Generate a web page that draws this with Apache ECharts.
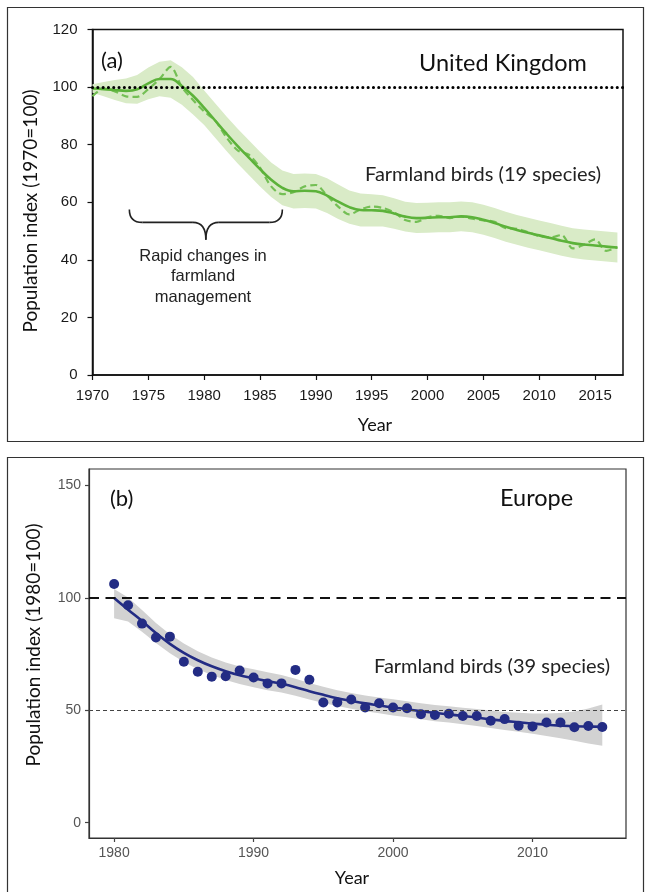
<!DOCTYPE html>
<html>
<head>
<meta charset="utf-8">
<script src="https://cdn.jsdelivr.net/npm/echarts@6/dist/echarts.min.js"></script>
<style>
  html, body { margin: 0; padding: 0; background: #fff; }
  #chart { width: 649px; height: 892px; }
</style>
</head>
<body>
<div id="chart"></div>
<script>
// ---- (a) United Kingdom farmland bird index, 1970 = 100 ----
const ukYears = [1970, 1971, 1972, 1973, 1974, 1975, 1976, 1977, 1978, 1979,
  1980, 1981, 1982, 1983, 1984, 1985, 1986, 1987, 1988, 1989,
  1990, 1991, 1992, 1993, 1994, 1995, 1996, 1997, 1998, 1999,
  2000, 2001, 2002, 2003, 2004, 2005, 2006, 2007, 2008, 2009,
  2010, 2011, 2012, 2013, 2014, 2015, 2016, 2017];
const ukSmoothed = [99.5, 99.3, 99.0, 98.7, 99.2, 101.3, 102.8, 102.8, 100.4, 97.0,
  92.8, 88.3, 83.8, 79.5, 75.5, 71.5, 67.8, 65.0, 63.8, 64.0,
  63.8, 62.3, 60.2, 58.3, 57.3, 57.2, 57.0, 56.1, 55.0, 54.5,
  54.6, 54.8, 54.8, 55.1, 54.8, 53.9, 52.8, 51.5, 50.4, 49.4,
  48.5, 47.6, 46.6, 45.8, 45.3, 45.0, 44.6, 44.3];
const ukAnnual = [96.8, 99.5, 98.5, 96.8, 96.6, 99.3, 102.8, 107.0, 100.0, 95.5,
  91.5, 88.3, 82.5, 78.0, 76.5, 72.0, 65.5, 62.8, 63.5, 65.5,
  66.0, 62.3, 58.5, 55.8, 57.5, 58.5, 58.0, 56.5, 53.8, 53.2,
  54.8, 55.3, 54.5, 55.0, 54.3, 53.7, 53.2, 51.0, 50.8, 49.6,
  48.2, 47.8, 48.6, 44.0, 45.2, 47.1, 43.1, 44.4];
const ukLower = [98.0, 96.8, 95.5, 94.4, 94.2, 95.8, 96.8, 96.3, 93.9, 90.5,
  86.8, 82.3, 77.8, 73.5, 69.5, 65.5, 61.8, 59.0, 57.8, 58.0,
  57.8, 56.3, 54.2, 52.5, 51.6, 51.6, 51.6, 50.8, 49.8, 49.3,
  49.4, 49.6, 49.6, 49.9, 49.6, 48.7, 47.6, 46.3, 45.2, 44.2,
  43.3, 42.4, 41.4, 40.6, 40.1, 39.8, 39.4, 39.1];
const ukUpper = [101.0, 101.8, 102.5, 103.0, 104.2, 106.8, 108.8, 109.3, 106.9, 103.5,
  98.8, 94.3, 89.8, 85.5, 81.5, 77.5, 73.8, 71.0, 69.8, 70.0,
  69.8, 68.3, 66.2, 64.1, 63.0, 62.8, 62.4, 61.4, 60.2, 59.7,
  59.8, 60.0, 60.0, 60.3, 60.0, 59.1, 58.0, 56.7, 55.6, 54.6,
  53.7, 52.8, 51.8, 51.0, 50.5, 50.2, 49.8, 49.5];
const ukXTicks = [1970, 1975, 1980, 1985, 1990, 1995, 2000, 2005, 2010, 2015];
const ukYTicks = [0, 20, 40, 60, 80, 100, 120];

// ---- (b) Europe farmland bird index, 1980 = 100 ----
const euYears = [1980, 1981, 1982, 1983, 1984, 1985, 1986, 1987, 1988, 1989,
  1990, 1991, 1992, 1993, 1994, 1995, 1996, 1997, 1998, 1999,
  2000, 2001, 2002, 2003, 2004, 2005, 2006, 2007, 2008, 2009,
  2010, 2011, 2012, 2013, 2014, 2015];
const euIndex = [106.2, 96.8, 88.6, 82.4, 82.8, 71.6, 67.2, 65.0, 65.2, 67.7,
  64.6, 62.0, 62.0, 68.0, 63.6, 53.5, 53.5, 54.8, 51.3, 53.2,
  51.3, 50.9, 48.3, 47.9, 48.5, 47.5, 47.5, 45.4, 46.1, 43.2,
  42.8, 44.6, 44.6, 42.5, 43.0, 42.6];
const euTrend = [100.0, 94.8, 89.8, 84.4, 79.6, 75.6, 72.3, 69.6, 67.4, 65.6,
  64.3, 63.0, 61.8, 60.3, 58.5, 56.9, 55.4, 54.2, 53.1, 52.2,
  51.3, 50.5, 49.6, 48.8, 48.2, 47.5, 46.8, 46.0, 45.3, 44.7,
  44.1, 43.6, 43.2, 42.9, 42.8, 42.7];
const euLower = [91.0, 89.5, 85.0, 80.0, 75.4, 71.5, 68.3, 65.7, 63.5, 61.7,
  60.3, 59.0, 57.9, 56.5, 54.8, 53.3, 51.9, 50.7, 49.6, 48.7,
  47.7, 46.9, 46.0, 45.2, 44.6, 43.8, 43.0, 42.1, 41.3, 40.5,
  39.6, 38.6, 37.6, 36.5, 35.3, 34.2];
const euUpper = [104.0, 100.2, 94.7, 88.9, 83.9, 79.7, 76.3, 73.5, 71.3, 69.5,
  68.3, 67.0, 65.7, 64.1, 62.2, 60.5, 58.9, 57.7, 56.6, 55.7,
  54.9, 54.1, 53.2, 52.4, 51.8, 51.2, 50.6, 49.9, 49.3, 48.9,
  48.6, 48.6, 48.8, 49.5, 50.8, 52.6];
const euXTicks = [1980, 1990, 2000, 2010];
const euYTicks = [0, 50, 100, 150];

// ---- styling ----
const SANS = 'Lato, "Open Sans", sans-serif';
const ARIAL = '"Liberation Sans", Arial, sans-serif';
const GREEN = '#5cb23a';
const GREEN_DASH = '#74bf55';
const GREEN_BAND = '#d9ebc7';
const NAVY = '#232c84';
const GREY_BAND = '#d2d2d2';

const pairs = (xs, ys) => xs.map((x, i) => [x, ys[i]]);
const plain = v => String(v);

// confidence band drawn as one polygon through the axis scales
function band(idx, xs, lo, hi, fill) {
  return {
    type: 'custom', xAxisIndex: idx, yAxisIndex: idx, silent: true, z: 1,
    data: [[xs[0], lo[0]]],
    renderItem(params, api) {
      const top = xs.map((x, i) => api.coord([x, hi[i]]));
      const bottom = xs.map((x, i) => api.coord([x, lo[i]])).reverse();
      return { type: 'polygon', shape: { points: top.concat(bottom) }, style: { fill: fill } };
    }
  };
}

function refLine(idx, value, style, z) {
  return {
    type: 'line', xAxisIndex: idx, yAxisIndex: idx, data: [], silent: true, z: z,
    markLine: { silent: true, symbol: 'none', label: { show: false },
      lineStyle: style, data: [{ yAxis: value }] }
  };
}

const chart = echarts.init(document.getElementById('chart'), null, { renderer: 'canvas' });

const option = {
  animation: false,
  backgroundColor: '#fff',
  grid: [
    { left: 92.5, top: 29.5, width: 530.5, height: 345.5, show: true, borderColor: '#111', borderWidth: 1.5, backgroundColor: 'transparent' },
    { left: 89, top: 469, width: 537, height: 369, show: true, borderColor: '#333', borderWidth: 1.2, backgroundColor: 'transparent' }
  ],
  xAxis: [
    { gridIndex: 0, type: 'value', min: 1970, max: 2017.5,
      axisLine: { show: true, onZero: false, lineStyle: { color: '#111', width: 1.5 } },
      axisTick: { show: true, length: 5, customValues: ukXTicks, lineStyle: { color: '#111', width: 1.2 } },
      axisLabel: { customValues: ukXTicks, formatter: plain, color: '#1a1a1a', fontFamily: ARIAL, fontSize: 15, margin: 13 },
      splitLine: { show: false } },
    { gridIndex: 1, type: 'value', min: 1978.2, max: 2016.7,
      axisLine: { show: true, onZero: false, lineStyle: { color: '#333', width: 1.2 } },
      axisTick: { show: true, length: 4, customValues: euXTicks, lineStyle: { color: '#444', width: 1.2 } },
      axisLabel: { customValues: euXTicks, formatter: plain, color: '#555', fontFamily: ARIAL, fontSize: 14, margin: 8 },
      splitLine: { show: false } }
  ],
  yAxis: [
    { gridIndex: 0, type: 'value', min: 0, max: 120,
      axisLine: { show: true, onZero: false, lineStyle: { color: '#111', width: 1.5 } },
      axisTick: { show: true, length: 5, customValues: ukYTicks, lineStyle: { color: '#111', width: 1.2 } },
      axisLabel: { customValues: ukYTicks, formatter: plain, color: '#1a1a1a', fontFamily: ARIAL, fontSize: 15, margin: 15 },
      splitLine: { show: false } },
    { gridIndex: 1, type: 'value', min: -6.8, max: 157.4,
      axisLine: { show: true, onZero: false, lineStyle: { color: '#333', width: 1.2 } },
      axisTick: { show: true, length: 4, customValues: euYTicks, lineStyle: { color: '#444', width: 1.2 } },
      axisLabel: { customValues: euYTicks, formatter: plain, color: '#555', fontFamily: ARIAL, fontSize: 14, margin: 8 },
      splitLine: { show: false } }
  ],
  series: [
    band(0, ukYears, ukLower, ukUpper, GREEN_BAND),
    { type: 'line', xAxisIndex: 0, yAxisIndex: 0, data: pairs(ukYears, ukAnnual), smooth: 0.3,
      showSymbol: false, z: 2, lineStyle: { color: GREEN_DASH, width: 2.2, type: [7, 4] } },
    { type: 'line', xAxisIndex: 0, yAxisIndex: 0, data: pairs(ukYears, ukSmoothed), smooth: 0.4,
      showSymbol: false, z: 3, lineStyle: { color: GREEN, width: 2.6 } },
    refLine(0, 100, { color: '#000', width: 3, type: [0.1, 5.2], cap: 'round' }, 5),

    band(1, euYears, euLower, euUpper, GREY_BAND),
    refLine(1, 100, { color: '#111', width: 2, type: [10, 6.5] }, 2),
    refLine(1, 50, { color: '#444', width: 1.2, type: [4, 3] }, 2),
    { type: 'line', xAxisIndex: 1, yAxisIndex: 1, data: pairs(euYears, euTrend), smooth: 0.4,
      showSymbol: false, z: 3, lineStyle: { color: NAVY, width: 2.6 } },
    { type: 'scatter', xAxisIndex: 1, yAxisIndex: 1, data: pairs(euYears, euIndex),
      symbolSize: 10, z: 4, itemStyle: { color: NAVY, opacity: 1 } }
  ],
  graphic: [
    // panel frames
    { type: 'rect', shape: { x: 7.5, y: 7.5, width: 636, height: 434 }, style: { fill: 'none', stroke: '#333', lineWidth: 1.2 }, silent: true },
    { type: 'rect', shape: { x: 7.5, y: 457.5, width: 636, height: 440 }, style: { fill: 'none', stroke: '#333', lineWidth: 1.2 }, silent: true },

    // panel (a) texts
    { type: 'text', x: 101, y: 61, style: { text: '(a)', font: '22px ' + SANS, fill: '#111', textVerticalAlign: 'middle' } },
    { type: 'text', x: 419, y: 63, style: { text: 'United Kingdom', font: '23.5px ' + SANS, fill: '#111', textVerticalAlign: 'middle' } },
    { type: 'text', x: 365, y: 175, style: { text: 'Farmland birds (19 species)', font: '20px ' + SANS, fill: '#222', textVerticalAlign: 'middle' } },
    { type: 'text', x: 203, y: 246, style: { text: 'Rapid changes in\nfarmland\nmanagement', font: '16.5px ' + ARIAL, fill: '#222', textAlign: 'center', lineHeight: 20.5 } },
    { type: 'text', x: 375, y: 425, style: { text: 'Year', font: '18px ' + SANS, fill: '#111', textAlign: 'center', textVerticalAlign: 'middle' } },
    { type: 'text', x: 31, y: 211, rotation: Math.PI / 2, style: { text: 'Population index (1970=100)', font: '19px ' + SANS, fill: '#111', textAlign: 'center', textVerticalAlign: 'middle' } },

    // panel (b) texts
    { type: 'text', x: 110, y: 499, style: { text: '(b)', font: '22px ' + SANS, fill: '#111', textVerticalAlign: 'middle' } },
    { type: 'text', x: 500, y: 498, style: { text: 'Europe', font: '23.5px ' + SANS, fill: '#111', textVerticalAlign: 'middle' } },
    { type: 'text', x: 374, y: 667, style: { text: 'Farmland birds (39 species)', font: '20px ' + SANS, fill: '#222', textVerticalAlign: 'middle' } },
    { type: 'text', x: 352, y: 878, style: { text: 'Year', font: '18px ' + SANS, fill: '#111', textAlign: 'center', textVerticalAlign: 'middle' } },
    { type: 'text', x: 34, y: 645, rotation: Math.PI / 2, style: { text: 'Population index (1980=100)', font: '19px ' + SANS, fill: '#111', textAlign: 'center', textVerticalAlign: 'middle' } }
  ]
};

chart.setOption(option);

// curly brace under the steep decline, placed in data coordinates of panel (a)
const braceFrom = 1973.3, braceTo = 1987.0, braceTop = 57.5, braceMid = 53.0, braceTip = 47.0;
const toPx = (x, y) => chart.convertToPixel({ gridIndex: 0 }, [x, y]);
const [x0, y0] = toPx(braceFrom, braceTop);
const [x1] = toPx(braceTo, braceTop);
const [, ym] = toPx(braceFrom, braceMid);
const [, yt] = toPx(braceFrom, braceTip);
const xc = (x0 + x1) / 2;
const r = ym - y0;
const braceStyle = { fill: 'none', stroke: '#222', lineWidth: 1.6 };
const curve = (ax, ay, cx, cy, bx, by) => ({ type: 'bezierCurve', silent: true, style: braceStyle,
  shape: { x1: ax, y1: ay, cpx1: cx, cpy1: cy, x2: bx, y2: by } });
const straight = (ax, ay, bx, by) => ({ type: 'line', silent: true, style: braceStyle,
  shape: { x1: ax, y1: ay, x2: bx, y2: by } });

chart.setOption({
  graphic: option.graphic.concat([
    curve(x0, y0, x0, ym, x0 + r, ym),
    straight(x0 + r, ym, xc - r, ym),
    curve(xc - r, ym, xc, ym, xc, yt),
    curve(xc, yt, xc, ym, xc + r, ym),
    straight(xc + r, ym, x1 - r, ym),
    curve(x1 - r, ym, x1, ym, x1, y0)
  ])
});
</script>
</body>
</html>
